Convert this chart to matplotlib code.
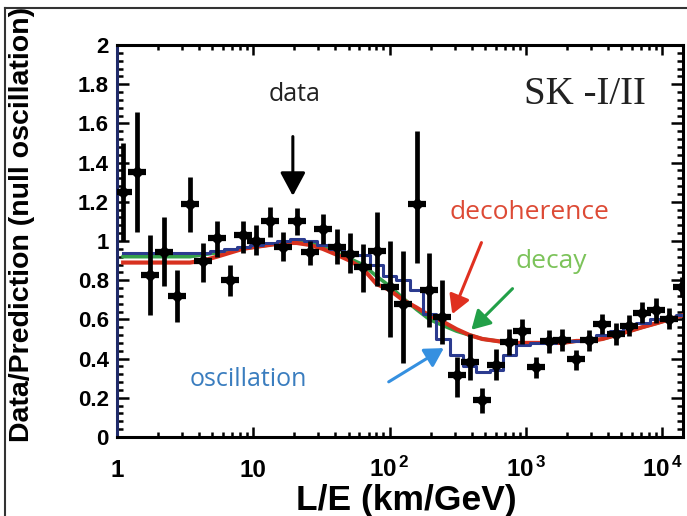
import numpy as np
import matplotlib
matplotlib.use("Agg")
import matplotlib.pyplot as plt
from matplotlib.lines import Line2D

plt.rcParams['font.family'] = ['Liberation Sans', 'DejaVu Sans']
plt.rcParams['mathtext.fontset'] = 'custom'
plt.rcParams['mathtext.rm'] = 'Liberation Sans:bold'
plt.rcParams['mathtext.bf'] = 'Liberation Sans:bold'

# L/E bin centres (km/GeV)
le = [1.11, 1.40, 1.745, 2.21, 2.75, 3.43, 4.27, 5.41, 6.73, 8.38,
      10.4, 13.2, 16.4, 20.8, 25.9, 32.3, 40.9, 50.9, 63.4, 80.3,
      100, 124.5, 158, 196, 244, 310, 386, 480, 608, 757,
      942, 1194, 1486, 1850, 2344, 2918, 3632, 4603, 5729, 7131,
      9040, 11250, 14000]

# data / null-oscillation prediction and error bar ends
ratio = [1.25, 1.35, 0.824, 0.943, 0.72, 1.19, 0.90, 1.016, 0.80, 1.03,
         1.0, 1.10, 0.97, 1.10, 0.943, 1.062, 0.97, 0.935, 0.867, 0.95,
         0.765, 0.68, 1.19, 0.748, 0.612, 0.316, 0.383, 0.188, 0.366, 0.485,
         0.54, 0.358, 0.49, 0.494, 0.396, 0.494, 0.575, 0.523, 0.566, 0.634,
         0.646, 0.60, 0.765]
err_lo = [1.0, 1.045, 0.62, 0.77, 0.587, 1.045, 0.79, 0.918, 0.72, 0.94,
          0.93, 1.02, 0.90, 1.03, 0.875, 0.985, 0.885, 0.835, 0.74, 0.77,
          0.51, 0.38, 0.89, 0.56, 0.477, 0.205, 0.29, 0.12, 0.29, 0.42,
          0.477, 0.30, 0.43, 0.44, 0.34, 0.44, 0.525, 0.47, 0.515, 0.58,
          0.58, 0.55, 0.714]
err_hi = [1.50, 1.66, 1.03, 1.12, 0.85, 1.325, 0.99, 1.10, 0.875, 1.10,
          1.08, 1.175, 1.045, 1.17, 1.0, 1.14, 1.06, 1.04, 0.985, 1.15,
          1.0, 0.95, 1.56, 0.94, 0.80, 0.41, 0.528, 0.248, 0.45, 0.55,
          0.60, 0.41, 0.545, 0.55, 0.443, 0.545, 0.63, 0.58, 0.62, 0.69,
          0.707, 0.66, 0.815]

# model predictions per bin
oscillation = [0.94, 0.94, 0.94, 0.94, 0.94, 0.94, 0.94, 0.95, 0.96, 0.97,
               0.98, 0.99, 1.0, 1.01, 1.0, 0.98, 0.96, 0.93, 0.93, 0.88,
               0.82, 0.80, 0.75, 0.63, 0.50, 0.42, 0.36, 0.33, 0.34, 0.42,
               0.47, 0.48, 0.48, 0.49, 0.49, 0.50, 0.52, 0.54, 0.56, 0.58,
               0.60, 0.61, 0.62]
decoherence = [0.89, 0.89, 0.89, 0.89, 0.89, 0.89, 0.90, 0.92, 0.94, 0.96,
               0.97, 0.98, 0.99, 0.99, 0.98, 0.96, 0.93, 0.90, 0.86, 0.78,
               0.75, 0.70, 0.66, 0.62, 0.59, 0.55, 0.52, 0.50, 0.49, 0.48,
               0.48, 0.48, 0.48, 0.48, 0.49, 0.49, 0.50, 0.52, 0.54, 0.56,
               0.58, 0.60, 0.62]
decay = [0.92, 0.92, 0.92, 0.92, 0.92, 0.92, 0.93, 0.94, 0.95, 0.96,
         0.97, 0.98, 0.99, 1.0, 0.99, 0.97, 0.94, 0.91, 0.88, 0.82,
         0.77, 0.71, 0.65, 0.60, 0.57, 0.54, 0.52, 0.50, 0.49, 0.48,
         0.48, 0.48, 0.48, 0.48, 0.49, 0.49, 0.50, 0.52, 0.54, 0.56,
         0.58, 0.60, 0.62]

y_ticks = [0, 0.2, 0.4, 0.6, 0.8, 1.0, 1.2, 1.4, 1.6, 1.8, 2.0]
y_labels = ['0', '0.2', '0.4', '0.6', '0.8', '1', '1.2', '1.4', '1.6', '1.8', '2']
x_ticks = [1, 10, 100, 1000, 10000]
x_labels = ['1', '10', r'$\mathbf{10^{\,2}}$', r'$\mathbf{10^{\,3}}$', r'$\mathbf{10^{\,4}}$']

fig = plt.figure(figsize=(6.87, 5.16), dpi=100)
ax = fig.add_axes([0.1703, 0.1531, 0.8239, 0.7597])

x = np.array(le)
y = np.array(ratio)

ax.plot(x, decay, color='#34a04a', lw=2.6, zorder=2)
ax.plot(x, decoherence, color='#d8311f', lw=3.0, zorder=3)
ax.step(x, oscillation, where='mid', color='#2b3b8f', lw=2.2, zorder=4)

ax.vlines(x, err_lo, err_hi, color='black', lw=3.4, zorder=5)
ax.plot(x, y, ls='none', marker='_', ms=13, mew=4.5, color='black', zorder=6)
ax.plot(x, y, ls='none', marker='D', ms=6, color='black', zorder=6)

ax.set_xscale('log')
ax.set_xlim(1, 14200)
ax.set_ylim(0, 2)

ax.set_xticks(x_ticks)
ax.set_xticklabels(x_labels)
ax.set_yticks(y_ticks)
ax.set_yticklabels(y_labels)
ax.set_yticks(np.arange(0, 2.001, 0.04), minor=True)

ax.tick_params(axis='both', which='both', direction='in', top=True, right=True,
               width=1.8)
ax.tick_params(axis='y', which='major', length=8.5, pad=6, labelsize=16)
ax.tick_params(axis='y', which='minor', length=4.5)
ax.tick_params(axis='x', which='major', length=7, pad=29, labelsize=17.5)
ax.tick_params(axis='x', which='minor', length=3.5)
for lab in ax.get_xticklabels():
    lab.set_fontweight('bold')
    lab.set_verticalalignment('baseline')
for lab in ax.get_yticklabels():
    lab.set_fontweight('bold')

for s in ax.spines.values():
    s.set_linewidth(2.2)
ax.spines['left'].set_color('#1f2a6a')

fig.text(0.032, 0.566, 'Data/Prediction (null oscillation)', rotation=90,
         ha='center', va='center', fontsize=20.5, fontweight='bold')
fig.text(0.591, 0.012, 'L/E (km/GeV)', ha='center', va='baseline',
         fontsize=25.5, fontweight='bold')

big_head = '-|>,head_width=0.35,head_length=0.65'
small_head = '-|>,head_width=0.4,head_length=0.7'
ax.text(20.1, 1.745, 'data', ha='center', va='center', fontsize=18,
        family='Open Sans', color='#222222')
ax.annotate('', xy=(19.5, 1.216), xytext=(19.5, 1.547),
            arrowprops=dict(arrowstyle=big_head, color='black', lw=2.2,
                            mutation_scale=22))
ax.text(1061, 1.143, 'decoherence', ha='center', va='center', fontsize=19,
        family='Open Sans', color='#dd4a35')
ax.annotate('', xy=(283, 0.614), xytext=(480, 1.005),
            arrowprops=dict(arrowstyle=small_head, color='#e03020', lw=2.2,
                            mutation_scale=16))
ax.text(1538, 0.893, 'decay', ha='center', va='center', fontsize=19,
        family='Open Sans', color='#7cc35a')
ax.annotate('', xy=(385, 0.537), xytext=(824, 0.767),
            arrowprops=dict(arrowstyle=small_head, color='#22a048', lw=2.2,
                            mutation_scale=16))
ax.text(9.12, 0.291, 'oscillation', ha='center', va='center', fontsize=18,
        family='Open Sans', color='#3a7dbf')
ax.annotate('', xy=(260, 0.461), xytext=(94.6, 0.274),
            arrowprops=dict(arrowstyle=small_head, color='#3590e0', lw=2.2,
                            mutation_scale=16))
ax.text(2729, 1.745, 'SK -I/II', ha='center', va='center', fontsize=28,
        family='Liberation Serif', color='#222222')

# border of the screenshot
fig.add_artist(Line2D([5 / 687, 5 / 687], [0, 1 - 8 / 516], transform=fig.transFigure,
                      color='#333333', lw=1.5))
fig.add_artist(Line2D([5 / 687, 1], [1 - 8 / 516, 1 - 8 / 516], transform=fig.transFigure,
                      color='#333333', lw=1.5))

fig.savefig('out.png', dpi=100)
